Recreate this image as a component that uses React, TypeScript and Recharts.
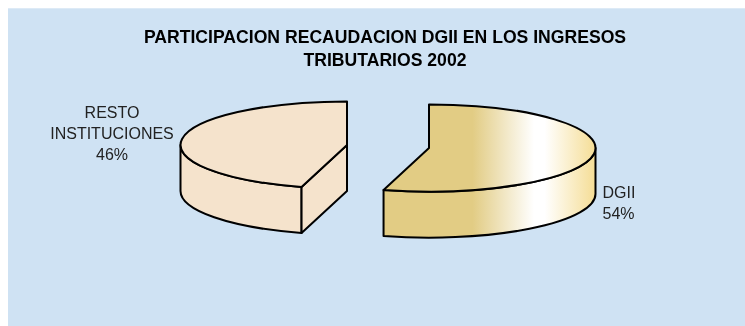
import React from "react";
import { PieChart, Pie } from "recharts";

const names = ["DGII", "RESTO INSTITUCIONES"];
const shares = [54.4, 45.6];
const titleLines = ["PARTICIPACION RECAUDACION DGII EN LOS INGRESOS", "TRIBUTARIOS 2002"];
const data = names.map((name, i) => ({ name, value: shares[i] }));

const W = 737;
const H = 318;
const CX = 380;
const CY = 138.5;
const R = 166.5;
const K = 0.262;
const DEPTH = 46;
const FONT = "Liberation Sans, Arial, sans-serif";
const explode: Record<string, [number, number]> = {
  DGII: [41, 1.5],
  "RESTO INSTITUCIONES": [-41, -1.5],
};
const fills: Record<string, string> = {
  DGII: "url(#goldGrad)",
  "RESTO INSTITUCIONES": "#F5E3CC",
};

const rad = (d: number) => (d * Math.PI) / 180;

function Sector3D(props: any) {
  const { cx, cy, outerRadius: r, startAngle, endAngle, name } = props;
  const key = props.payload?.name ?? name;
  const [dx, dy] = explode[key] ?? [0, 0];
  const ox = cx + dx;
  const oy = cy + dy;
  const pt = (a: number, d = 0): [number, number] => [
    ox + r * Math.cos(rad(a)),
    oy - K * r * Math.sin(rad(a)) + d,
  ];
  const ry = K * r;
  const fill = fills[key];
  const stroke = "#000";
  const sw = 2;
  const a1 = Math.max(startAngle, endAngle);
  const a2 = Math.min(startAngle, endAngle);
  const parts: React.ReactNode[] = [];

  const wStart = Math.min(a1, 0);
  const wEnd = Math.max(a2, -180);
  if (wStart > wEnd) {
    const p1 = pt(wStart);
    const p2 = pt(wEnd);
    const p3 = pt(wEnd, DEPTH);
    const p4 = pt(wStart, DEPTH);
    parts.push(
      <path
        key="wall"
        d={`M${p1[0]},${p1[1]} A${r},${ry} 0 0 1 ${p2[0]},${p2[1]} L${p3[0]},${p3[1]} A${r},${ry} 0 0 0 ${p4[0]},${p4[1]} Z`}
        fill={fill}
        stroke={stroke}
        strokeWidth={sw}
        strokeLinejoin="round"
      />
    );
  }
  [
    { a: a1, n: a1 + 90 },
    { a: a2, n: a2 - 90 },
  ].forEach(({ a, n }, i) => {
    if (Math.sin(rad(n)) < -1e-6) {
      const p = pt(a);
      const q = pt(a, DEPTH);
      parts.push(
        <path
          key={`cut${i}`}
          d={`M${ox},${oy} L${p[0]},${p[1]} L${q[0]},${q[1]} L${ox},${oy + DEPTH} Z`}
          fill={fill}
          stroke={stroke}
          strokeWidth={sw}
          strokeLinejoin="round"
        />
      );
    }
  });
  const s = pt(a1);
  const e = pt(a2);
  const large = a1 - a2 > 180 ? 1 : 0;
  parts.push(
    <path
      key="top"
      d={`M${ox},${oy} L${s[0]},${s[1]} A${r},${ry} 0 ${large} 1 ${e[0]},${e[1]} Z`}
      fill={fill}
      stroke={stroke}
      strokeWidth={sw}
      strokeLinejoin="round"
    />
  );
  return <g>{parts}</g>;
}

function SliceLabel(props: any) {
  const { name, percent } = props;
  const pct = `${Math.round(percent * 100)}%`;
  const font = { fontFamily: FONT, fontSize: 16, fill: "#222" };
  if (name === "DGII") {
    return (
      <text {...font} textAnchor="start">
        <tspan x={594.5} y={190}>{name}</tspan>
        <tspan x={594.5} y={211}>{pct}</tspan>
      </text>
    );
  }
  return (
    <text {...font} textAnchor="middle">
      <tspan x={104} y={110}>RESTO</tspan>
      <tspan x={104} y={131}>INSTITUCIONES</tspan>
      <tspan x={104} y={151.5}>{pct}</tspan>
    </text>
  );
}

export default function App() {
  return (
    <div style={{ width: W, height: H, marginBottom: -8, position: "relative" }}>
      <div
        style={{
          position: "fixed",
          left: 8,
          top: 8,
          right: 0,
          bottom: 0,
          background: "#CFE2F3",
          boxShadow: "inset 0 1px 0 #DDEAF6",
        }}
      />
      <div style={{ position: "relative" }}>
        <PieChart width={W} height={H} margin={{ top: 0, right: 0, bottom: 0, left: 0 }}>
          <defs>
            <linearGradient id="goldGrad" x1="0" y1="0" x2="1" y2="0">
              <stop offset="0" stopColor="#E2CC84" />
              <stop offset="0.42" stopColor="#E2CC84" />
              <stop offset="0.71" stopColor="#FFFFFF" />
              <stop offset="0.76" stopColor="#FFFFFF" />
              <stop offset="1" stopColor="#F5DD95" />
            </linearGradient>
          </defs>
          <text textAnchor="middle" fontFamily={FONT} fontWeight="bold" fontSize={17.6} fill="#000">
            <tspan x={377} y={34.7}>{titleLines[0]}</tspan>
            <tspan x={377} y={57.7}>{titleLines[1]}</tspan>
          </text>
          <Pie
            data={data}
            dataKey="value"
            nameKey="name"
            cx={CX}
            cy={CY}
            outerRadius={R}
            startAngle={90}
            endAngle={-270}
            paddingAngle={0}
            stroke="none"
            isAnimationActive={false}
            shape={Sector3D}
            label={SliceLabel}
            labelLine={false}
          />
        </PieChart>
      </div>
    </div>
  );
}
